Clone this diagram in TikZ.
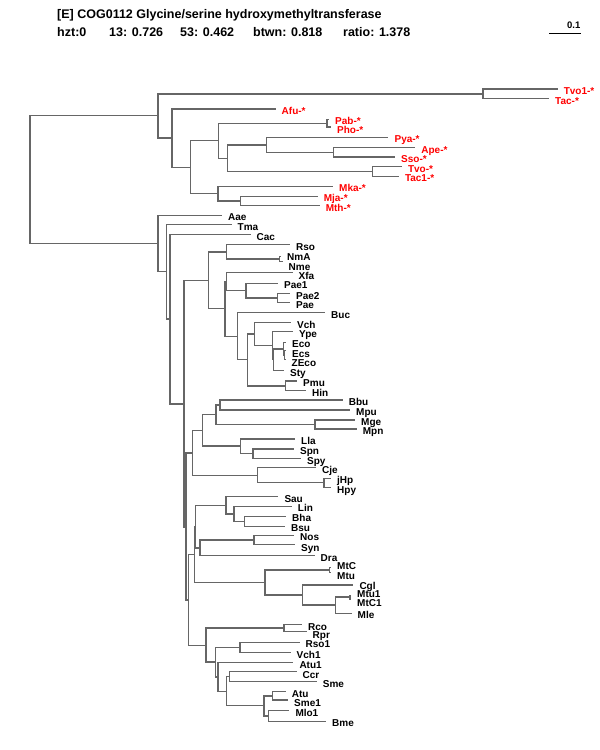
\documentclass[tikz,border=0pt]{standalone}
\usepackage{fontspec}
\setmainfont{Liberation Sans}
\usepackage{tikz}
\usetikzlibrary{positioning}
\usepackage{xcolor}
\definecolor{treegray}{RGB}{102,102,102}
\definecolor{archred}{RGB}{255,0,0}
\tikzstyle{branch} = [line width=1.5pt, color=treegray]
\tikzstyle{taxon} = [anchor=base west, inner sep=0pt, font=\bfseries\fontsize{10}{12}\selectfont]
\tikzstyle{header} = [anchor=base west, inner sep=0pt, font=\bfseries\fontsize{12.5}{14}\selectfont]

\begin{document}
\begin{tikzpicture}[x=1pt, y=-1pt]
\useasboundingbox (0,0) rectangle (600,750);

% Header
\node[header] (title) at (57,18) {[E] COG0112 Glycine/serine hydroxymethyltransferase};
\node[header] (stats) at (57,36) {\makebox[52pt][l]{hzt:0}\makebox[71pt][l]{13: 0.726}\makebox[73pt][l]{53: 0.462}\makebox[90pt][l]{btwn: 0.818}ratio: 1.378};

% Scale bar
\coordinate (sb1) at (549,33);
\coordinate (sb2) at (581,33);
\draw[line width=0.9pt] (sb1) -- (sb2);
\node[taxon, font=\bfseries\fontsize{9.5}{11}\selectfont] (sblabel) at (567,28) {0.1};

% Internal nodes
\foreach \n/\x/\y in {r/30/179.7, A/158/115.7, tv/483/93.8, a1/172/137.8, a2/190.5/167.3,
  a3/218.5/140.5, pp/327/123.3, a4/227.3/158.5, a5/266.7/145, ap/333.3/152.3,
  a6/372.4/171.7, a7/218/193.5, mm/240.3/201,
  B/158/243.5, b1/166.3/271.5, b2/170/319.2, b3/184/404, b4/208.7/280.5,
  rn/226.7/252, nm/279.3/259.2, b6/225/308.5, xp/226.5/281.5, pa/246/290.7,
  pa2/277.7/298, b7/237.7/336.3, b8/247.3/359.5, b9/254.3/334, b10/272.3/345.7,
  b11/273.7/359.7, ec/283.5/349, ec2/284.5/355, ph/285.7/385.8,
  b5/186/527, na/192.3/453, b13/202.7/430.3, b14/216/414.7, bm/220/405,
  mg/315/424.3, ls/240.7/446, sp/253/453.5, cj/257.5/475.3, hp/324/482.7,
  b12/188.3/600, b15/194.3/554.7, b16/195.7/527, sa/226/505.3, li/234/514.2,
  bs/244.7/521.7, ns/200/548, nsy/254/540, mt/265/582.7, mtc/329.3/570,
  cg/302.3/595, ml/335.7/605, mm1/350/597.2,
  b20/206/645.7, rr/284/628, b21/215.7/662.2, rv/240/647.5, b22/218/677.2,
  b23/226.7/691.7, cs/229.3/676.7, b24/264/705.5, as1/272.7/696, mb/268.3/716.2}
  \coordinate (\n) at (\x,\y);

% Archaea (red)
\foreach \name/\x/\y/\dy in {Tvo1/557.6/89/1.7, Tac/549/98.7/2, Afu/275.5/109/1.7,
  Pab/329/119.5/1.2, Pho/331/127/3, Pya/388.4/137.7/1.3, Ape/415.2/147.7/2.3,
  Sso/395/157/2.3, Tvo/401.8/166.7/2.3, Tac1/398.8/176.7/1.6, Mka/333/186.7/1.6,
  Mja/317.6/196.3/1.4, Mth/319.6/205.7/2.3}
{
  \coordinate (\name) at (\x,\y);
  \node[taxon, text=archred] (l\name) at ([shift={(6,\dy+3.6)}]\name) {\name-*};
}

% Bacteria
\foreach \name/\x/\y/\dy in {Aae/222/215.3/2, Tma/231.5/224.7/2.6, Cac/250.5/234.7/2,
  Rso/290/244.7/2, NmA/281/256.7/0.6, Nme/282.5/261.7/5, Xfa/292.5/272.7/3.3,
  Pae1/278/283.3/2, Pae2/290/293.3/2.4, Pae/290/302.7/2.6, Buc/325/312.7/2.3,
  Vch/291/322.3/3, Ype/293/331.7/2.6, Eco/286/342.7/1.3, Ecs/286/350.5/3.5,
  ZEco/285.5/359.5/3.8, Sty/284/370.7/2, Pmu/297/381/1.7, Hin/306/390.7/2,
  Bbu/342.7/400/1.7, Mpu/350/410/1.7, Mge/355/420/2.3, Mpn/356.7/429/1.7,
  Lla/295/439/1.7, Spn/294/449/1.7, Spy/301/458.3/2.4, Cje/316/467.7/2.3,
  jHp/331/478.3/1.7, Hpy/331/487.5/2.5, Sau/278.3/496.7/2.3, Lin/291.7/506.7/1.6,
  Bha/286/516.7/1.6, Bsu/285/526.7/1, Nos/294/535.7/1, Syn/295/544.3/3.4,
  Dra/314.5/555.7/2.6, MtC/331/567.3/-1.3, Mtu/331/572.7/3.3, Cgl/353.3/585/1,
  Mtu1/351/595.5/-1.2, MtC1/351/599/3.7, Mle/351.5/613.3/1.7, Rco/302/624.3/2.4,
  Rpr/306.5/631.7/3.3, Rso1/299.5/642.3/2, Vch1/290.5/652.7/2.3, Atu1/293.3/662.7/2.3,
  Ccr/296.5/671.7/3.3, Sme/316.7/681.7/2.3, Atu/285.7/691.7/2.3, Sme1/288/700/2.7,
  Mlo1/289.3/710.7/2, Bme/326/721.7/1.6}
{
  \coordinate (\name) at (\x,\y);
  \node[taxon] (l\name) at ([shift={(6,\dy+3.6)}]\name) {\name};
}

% Branches
\foreach \p/\c in {r/A, r/B,
  A/tv, A/a1, tv/Tvo1, tv/Tac, a1/Afu, a1/a2, a2/a3, a2/a7, a3/pp, a3/a4,
  pp/Pab, pp/Pho, a4/a5, a4/a6, a5/Pya, a5/ap, ap/Ape, ap/Sso, a6/Tvo, a6/Tac1,
  a7/Mka, a7/mm, mm/Mja, mm/Mth,
  B/Aae, B/b1, b1/Tma, b1/b2, b2/Cac, b2/b3, b3/b4, b3/b5, b4/rn, b4/b6,
  rn/Rso, rn/nm, nm/NmA, nm/Nme, b6/xp, b6/b7, xp/Xfa, xp/pa, pa/Pae1, pa/pa2,
  pa2/Pae2, pa2/Pae, b7/Buc, b7/b8, b8/b9, b8/ph, b9/Vch, b9/b10, b10/Ype,
  b10/b11, b11/ec, b11/Sty, ec/Eco, ec/ec2, ec2/Ecs, ec2/ZEco, ph/Pmu, ph/Hin,
  b5/na, b5/b12, na/b13, na/cj, b13/b14, b13/ls, b14/bm, b14/mg, bm/Bbu, bm/Mpu,
  mg/Mge, mg/Mpn, ls/Lla, ls/sp, sp/Spn, sp/Spy, cj/Cje, cj/hp, hp/jHp, hp/Hpy,
  b12/b15, b12/b20, b15/b16, b15/mt, b16/sa, b16/ns, sa/Sau, sa/li, li/Lin,
  li/bs, bs/Bha, bs/Bsu, ns/nsy, ns/Dra, nsy/Nos, nsy/Syn, mt/mtc, mt/cg,
  mtc/MtC, mtc/Mtu, cg/Cgl, cg/ml, ml/mm1, ml/Mle, mm1/Mtu1, mm1/MtC1,
  b20/rr, b20/b21, rr/Rco, rr/Rpr, b21/rv, b21/b22, rv/Rso1, rv/Vch1,
  b22/Atu1, b22/b23, b23/cs, b23/b24, cs/Ccr, cs/Sme, b24/as1, b24/mb,
  as1/Atu, as1/Sme1, mb/Mlo1, mb/Bme}
  \draw[branch] (\p) |- (\c);
\end{tikzpicture}
\end{document}
